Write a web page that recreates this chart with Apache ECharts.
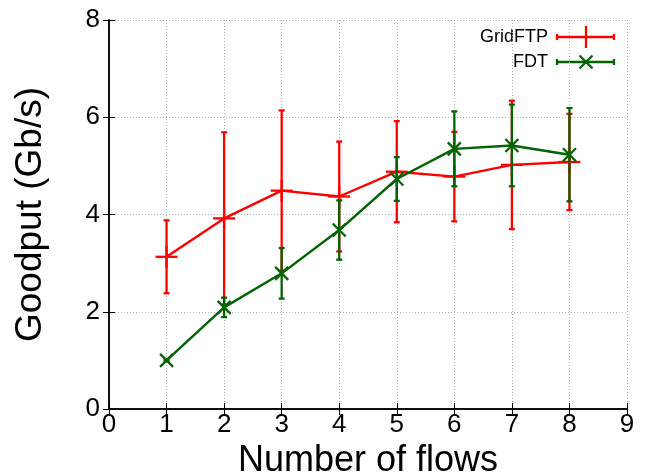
<!DOCTYPE html>
<html>
<head>
<meta charset="utf-8">
<script src="https://cdn.jsdelivr.net/npm/echarts@6/dist/echarts.min.js"></script>
<style>
html,body{margin:0;padding:0;background:#fff;}
#chart{width:654px;height:473px;}
</style>
</head>
<body>
<div id="chart"></div>
<script>
const flows = [1, 2, 3, 4, 5, 6, 7, 8];
const gridftpMean = [3.13, 3.92, 4.49, 4.37, 4.88, 4.78, 5.02, 5.08];
const gridftpErr  = [0.75, 1.77, 1.65, 1.13, 1.04, 0.92, 1.32, 0.99];
const fdtMean = [1.00, 2.09, 2.79, 3.68, 4.73, 5.35, 5.42, 5.23];
const fdtErr  = [0.02, 0.20, 0.52, 0.61, 0.45, 0.77, 0.84, 0.96];
const xTicks = [0, 1, 2, 3, 4, 5, 6, 7, 8, 9];
const yTicks = [0, 2, 4, 6, 8];

const RED = '#ff0000';
const GREEN = '#006400';
const FONT = '"Liberation Sans", Arial, Helvetica, sans-serif';

function rows(means, errs) {
  return flows.map((f, i) => [f, means[i], means[i] - errs[i], means[i] + errs[i]]);
}

function errRender(color, marker) {
  return function (params, api) {
    const x = api.value(0), m = api.value(1), lo = api.value(2), hi = api.value(3);
    const c = api.coord([x, m]);
    const pLo = api.coord([x, lo]);
    const pHi = api.coord([x, hi]);
    const st = { stroke: color, lineWidth: 2.3 };
    const cap = 3;
    const ch = [
      { type: 'line', shape: { x1: pLo[0], y1: pLo[1], x2: pHi[0], y2: pHi[1] }, style: st },
      { type: 'line', shape: { x1: pLo[0] - cap, y1: pLo[1], x2: pLo[0] + cap, y2: pLo[1] }, style: st },
      { type: 'line', shape: { x1: pHi[0] - cap, y1: pHi[1], x2: pHi[0] + cap, y2: pHi[1] }, style: st }
    ];
    if (marker === 'plus') {
      const h = 11;
      ch.push({ type: 'line', shape: { x1: c[0] - h, y1: c[1], x2: c[0] + h, y2: c[1] }, style: st });
      ch.push({ type: 'line', shape: { x1: c[0], y1: c[1] - h, x2: c[0], y2: c[1] + h }, style: st });
    } else {
      const h = 6.5;
      ch.push({ type: 'line', shape: { x1: c[0] - h, y1: c[1] - h, x2: c[0] + h, y2: c[1] + h }, style: st });
      ch.push({ type: 'line', shape: { x1: c[0] - h, y1: c[1] + h, x2: c[0] + h, y2: c[1] - h }, style: st });
    }
    return { type: 'group', children: ch };
  };
}

const chart = echarts.init(document.getElementById('chart'), null, { renderer: 'canvas' });

const axisLineStyle = { show: true, lineStyle: { color: '#000', width: 1.5 } };
const tickStyle = { show: true, inside: true, length: 6, lineStyle: { color: '#000', width: 1 } };
const gridStyle = { show: true, lineStyle: { color: '#b0b0b0', width: 1, type: [1, 2] } };

function legendItem(y, label, color, marker) {
  const x1 = 557, x2 = 614, xm = 586;
  const st = { stroke: color, lineWidth: 2.3 };
  const items = [
    { type: 'text', x: 548, y: y, style: { text: label, fill: '#000', font: '18px ' + FONT, align: 'right', verticalAlign: 'middle', textAlign: 'right', textVerticalAlign: 'middle' } },
    { type: 'line', shape: { x1: x1, y1: y, x2: x2, y2: y }, style: st },
    { type: 'line', shape: { x1: x1, y1: y - 3, x2: x1, y2: y + 3 }, style: st },
    { type: 'line', shape: { x1: x2, y1: y - 3, x2: x2, y2: y + 3 }, style: st }
  ];
  if (marker === 'plus') {
    items.push({ type: 'line', shape: { x1: xm, y1: y - 11, x2: xm, y2: y + 11 }, style: st });
  } else {
    items.push({ type: 'line', shape: { x1: xm - 6.5, y1: y - 6.5, x2: xm + 6.5, y2: y + 6.5 }, style: st });
    items.push({ type: 'line', shape: { x1: xm - 6.5, y1: y + 6.5, x2: xm + 6.5, y2: y - 6.5 }, style: st });
  }
  return items;
}

const option = {
  animation: false,
  backgroundColor: '#fff',
  grid: { left: 109, right: 27, top: 20, bottom: 64, containLabel: false, outerBoundsMode: 'none' },
  xAxis: [
    {
      type: 'value', min: xTicks[0], max: xTicks[xTicks.length - 1], interval: 1, position: 'bottom',
      axisLine: axisLineStyle, axisTick: tickStyle,
      axisLabel: { show: true, color: '#000', fontSize: 26, fontFamily: FONT, margin: 3 },
      splitLine: gridStyle,
      name: 'Number of flows', nameLocation: 'middle', nameGap: 22,
      nameTextStyle: { color: '#000', fontSize: 36, fontFamily: FONT }
    },
    {
      type: 'value', min: xTicks[0], max: xTicks[xTicks.length - 1], interval: 1, position: 'top',
      axisLine: axisLineStyle, axisTick: tickStyle, axisLabel: { show: false }, splitLine: { show: false }
    }
  ],
  yAxis: [
    {
      type: 'value', min: yTicks[0], max: yTicks[yTicks.length - 1], interval: 2, position: 'left',
      axisLine: axisLineStyle, axisTick: tickStyle,
      axisLabel: { show: true, color: '#000', fontSize: 26, fontFamily: FONT, margin: 9 },
      splitLine: gridStyle,
      name: 'Goodput (Gb/s)', nameLocation: 'middle', nameGap: 60, nameRotate: 90,
      nameTextStyle: { color: '#000', fontSize: 37, fontFamily: FONT }
    },
    {
      type: 'value', min: yTicks[0], max: yTicks[yTicks.length - 1], interval: 2, position: 'right',
      axisLine: axisLineStyle, axisTick: tickStyle, axisLabel: { show: false }, splitLine: { show: false }
    }
  ],
  series: [
    {
      name: 'GridFTP', type: 'line', data: flows.map((f, i) => [f, gridftpMean[i]]),
      symbol: 'none', lineStyle: { color: RED, width: 2.4 }, z: 2
    },
    {
      name: 'GridFTP err', type: 'custom', data: rows(gridftpMean, gridftpErr),
      renderItem: errRender(RED, 'plus'), z: 3
    },
    {
      name: 'FDT', type: 'line', data: flows.map((f, i) => [f, fdtMean[i]]),
      symbol: 'none', lineStyle: { color: GREEN, width: 2.4 }, z: 4
    },
    {
      name: 'FDT err', type: 'custom', data: rows(fdtMean, fdtErr),
      renderItem: errRender(GREEN, 'x'), z: 5
    }
  ],
  graphic: [].concat(legendItem(37, 'GridFTP', RED, 'plus'), legendItem(62, 'FDT', GREEN, 'x'))
};
chart.setOption(option);
</script>
</body>
</html>
